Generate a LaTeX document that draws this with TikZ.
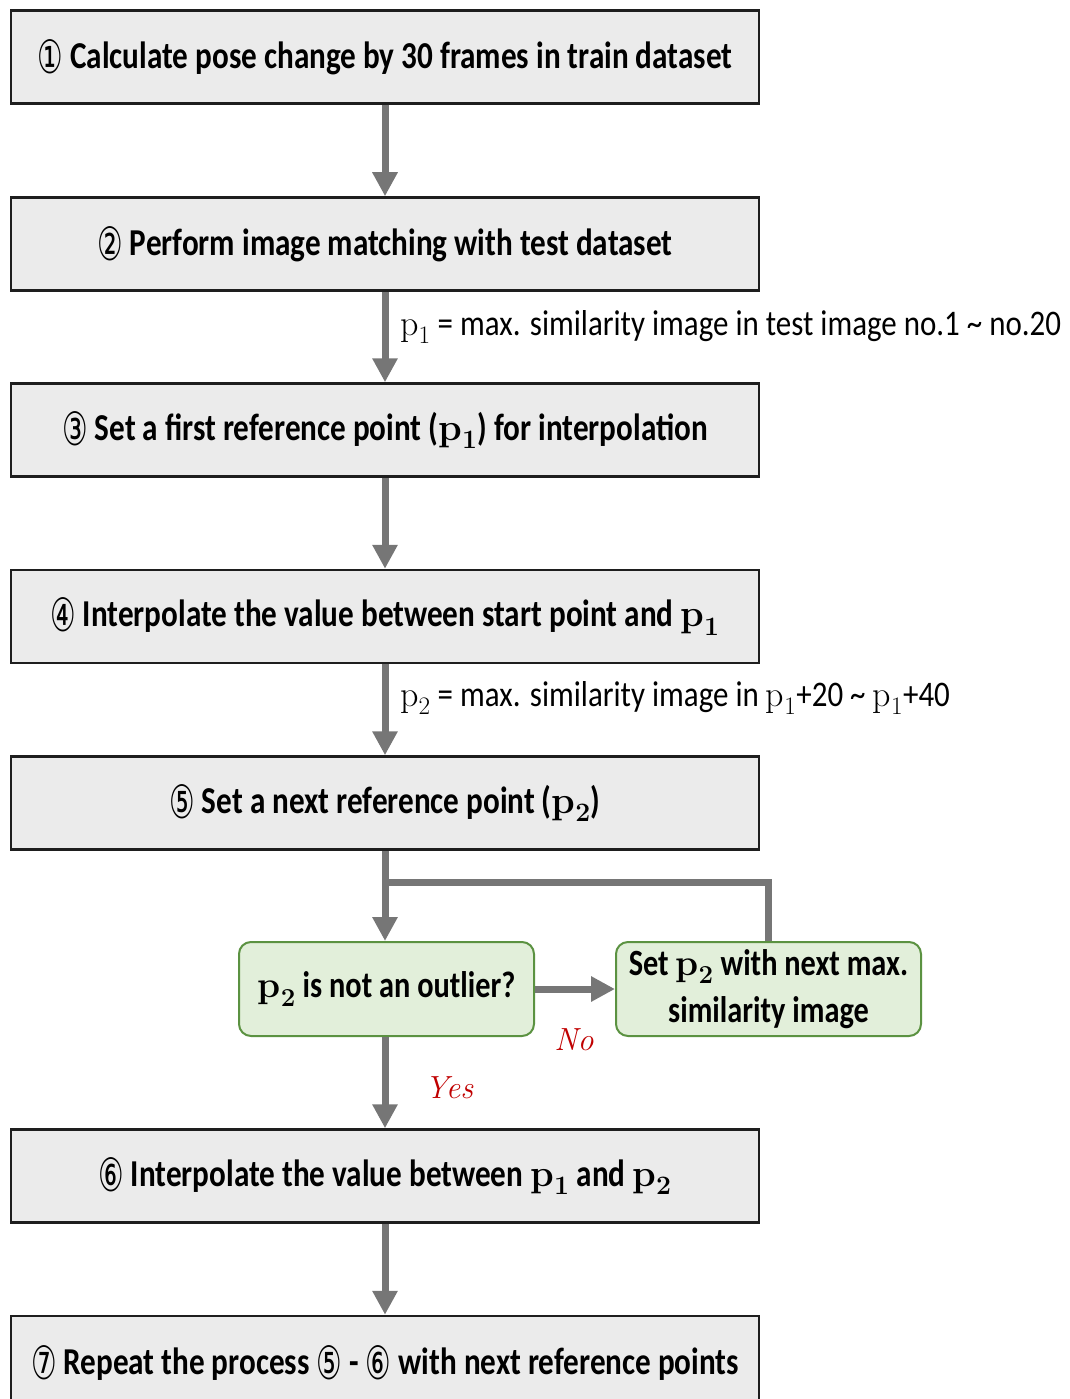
\documentclass[tikz,border=0pt]{standalone}
\usepackage{fontspec}
\usetikzlibrary{arrows.meta}
\newfontfamily\calibribox[FakeStretch=0.82]{Carlito}
\newfontfamily\calibrinote[FakeStretch=0.86]{Carlito}
\newfontfamily\circfont[FakeStretch=0.62]{DejaVu Sans}
\newcommand\cnum[1]{{\normalfont\circfont\fontsize{46}{46}\selectfont\raisebox{-5pt}{#1}}}
\newcommand\pp[1]{{\rmfamily p\textsubscript{#1}}}
\definecolor{boxgray}{HTML}{EBEBEB}
\definecolor{boxline}{HTML}{1E1E1E}
\definecolor{arrowgray}{HTML}{767676}
\definecolor{greenfill}{HTML}{E2EFDA}
\definecolor{greenline}{HTML}{5B9241}
\definecolor{answerred}{HTML}{C00000}
\tikzset{
  stepbox/.style={draw=boxline, line width=2.5pt, fill=boxgray,
    minimum width=748pt, minimum height=93pt, inner sep=0pt,
    font=\calibribox\bfseries\fontsize{38}{42}\selectfont},
  checkbox/.style={draw=greenline, line width=2pt, fill=greenfill,
    rounded corners=12pt, minimum height=94pt, inner sep=0pt, align=center,
    font=\calibribox\bfseries\fontsize{37}{47}\selectfont},
  flow/.style={draw=arrowgray, line width=7pt,
    -{Triangle[length=24pt,width=24pt]}},
  flowplain/.style={draw=arrowgray, line width=7pt},
  note/.style={anchor=west, inner sep=0pt,
    font=\calibrinote\fontsize{36}{40}\selectfont},
  answer/.style={text=answerred, inner sep=0pt,
    font=\rmfamily\itshape\fontsize{32}{36}\selectfont},
}
\begin{document}
\begin{tikzpicture}[x=1pt, y=-1pt]
  \path[use as bounding box, clip] (0,0) rectangle (1069,1399);

  % main steps
  \node[stepbox] (s1) at (385,57)    {\cnum{①} Calculate pose change by 30 frames in train dataset};
  \node[stepbox] (s2) at (385,244)   {\cnum{②} Perform image matching with test dataset};
  \node[stepbox] (s3) at (385,430)   {\cnum{③} Set a first reference point (\pp{1}) for interpolation};
  \node[stepbox] (s4) at (385,616.5) {\cnum{④} Interpolate the value between start point and \pp{1}};
  \node[stepbox] (s5) at (385,803)   {\cnum{⑤} Set a next reference point (\pp{2})};
  \node[stepbox] (s6) at (385,1176)  {\cnum{⑥} Interpolate the value between \pp{1} and \pp{2}};
  \node[stepbox] (s7) at (385,1362.5){\cnum{⑦} Repeat the process \cnum{⑤} - \cnum{⑥} with next reference points};

  % outlier check
  \node[checkbox, minimum width=295pt] (g1) at (386.5,989) {\pp{2} is not an outlier?};
  \node[checkbox, minimum width=305pt] (g2) at (768.5,989) {Set \pp{2} with next max.\\similarity image};

  \coordinate (joint) at (385,882);

  % connectors
  \draw[flow] (s1) -- (s2);
  \draw[flow] (s2) -- (s3);
  \draw[flow] (s3) -- (s4);
  \draw[flow] (s4) -- (s5);
  \draw[flow] (s5.south -| joint) -- (g1.north -| joint);
  \draw[flowplain] (g2.north) |- (joint);
  \draw[flow] (g1.east) -- (g2.west);
  \draw[flow] (g1.south -| joint) -- (s6.north -| joint);
  \draw[flow] (s6) -- (s7);

  % annotations
  \node[note] (n1) at (400,327) {\pp{1} = max. similarity image in test image no.1 \textasciitilde{} no.20};
  \node[note] (n2) at (400,698) {\pp{2} = max. similarity image in \pp{1}+20 \textasciitilde{} \pp{1}+40};
  \node[answer] (no)  at (574,1040) {No};
  \node[answer] (yes) at (449,1088) {Yes};
\end{tikzpicture}
\end{document}
